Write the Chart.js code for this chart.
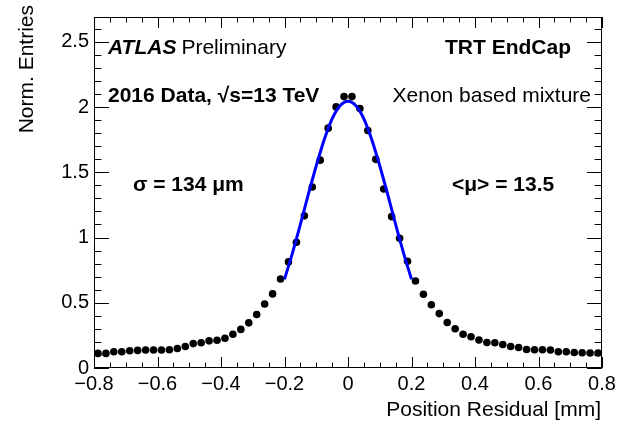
<!DOCTYPE html>
<html>
<head>
<meta charset="utf-8">
<script src="https://cdn.jsdelivr.net/npm/chart.js@4.4.0/dist/chart.umd.min.js"></script>
<style>
  body { margin: 0; background: #fff; }
</style>
</head>
<body>
<canvas id="residualChart" width="620" height="426"></canvas>
<script>
// bin centres of the residual histogram (bin width 0.025 mm)
const binCenters = [
  -0.7875, -0.7625, -0.7375, -0.7125, -0.6875, -0.6625, -0.6375, -0.6125,
  -0.5875, -0.5625, -0.5375, -0.5125, -0.4875, -0.4625, -0.4375, -0.4125,
  -0.3875, -0.3625, -0.3375, -0.3125, -0.2875, -0.2625, -0.2375, -0.2125,
  -0.1875, -0.1625, -0.1375, -0.1125, -0.0875, -0.0625, -0.0375, -0.0125,
  0.0125, 0.0375, 0.0625, 0.0875, 0.1125, 0.1375, 0.1625, 0.1875,
  0.2125, 0.2375, 0.2625, 0.2875, 0.3125, 0.3375, 0.3625, 0.3875,
  0.4125, 0.4375, 0.4625, 0.4875, 0.5125, 0.5375, 0.5625, 0.5875,
  0.6125, 0.6375, 0.6625, 0.6875, 0.7125, 0.7375, 0.7625, 0.7875
];
const entries = [
  0.112, 0.112, 0.125, 0.125, 0.132, 0.135, 0.138, 0.138,
  0.138, 0.140, 0.150, 0.165, 0.187, 0.193, 0.208, 0.213,
  0.228, 0.259, 0.296, 0.346, 0.410, 0.490, 0.568, 0.682,
  0.813, 0.964, 1.166, 1.387, 1.593, 1.838, 2.001, 2.080,
  2.080, 1.989, 1.820, 1.599, 1.372, 1.160, 0.994, 0.818,
  0.667, 0.565, 0.485, 0.417, 0.349, 0.301, 0.259, 0.240,
  0.215, 0.195, 0.193, 0.180, 0.165, 0.157, 0.142, 0.140,
  0.140, 0.138, 0.125, 0.125, 0.119, 0.117, 0.115, 0.115
];

// gaussian fit line
const fitX = [-0.2, -0.175, -0.15, -0.125, -0.1, -0.075, -0.05, -0.025, 0,
  0.025, 0.05, 0.075, 0.1, 0.125, 0.15, 0.175, 0.2];
const fitY = [0.68, 0.88, 1.10, 1.33, 1.55, 1.75, 1.91, 2.01, 2.045,
  2.01, 1.91, 1.75, 1.55, 1.33, 1.10, 0.88, 0.68];

const xTickValues = [-0.8, -0.6, -0.4, -0.2, 0, 0.2, 0.4, 0.6, 0.8];
const yTickValues = [0, 0.5, 1, 1.5, 2, 2.5];

const FONT = "'Liberation Sans', Arial, Helvetica, sans-serif";

function fmt(v) {
  return String(Math.round(v * 10) / 10).replace('-', '\u2212');
}

// ROOT style frame: box with inward ticks on all four sides
const frameTicks = {
  id: 'frameTicks',
  afterDatasetsDraw(chart) {
    const ctx = chart.ctx;
    const a = chart.chartArea;
    const xs = chart.scales.x;
    const ys = chart.scales.y;
    ctx.save();
    ctx.strokeStyle = '#000';
    ctx.lineWidth = 1;
    ctx.strokeRect(a.left + 0.5, a.top + 0.5, a.right - a.left - 1, a.bottom - a.top - 1);
    ctx.beginPath();
    for (let i = 0; i <= 32; i++) {
      const v = -0.8 + i * 0.05;
      const px = Math.round(xs.getPixelForValue(v)) + 0.5;
      const len = i % 4 === 0 ? 11 : 5.5;
      ctx.moveTo(px, a.bottom);
      ctx.lineTo(px, a.bottom - len);
      ctx.moveTo(px, a.top);
      ctx.lineTo(px, a.top + len);
    }
    for (let i = 0; i <= 26; i++) {
      const v = i * 0.1;
      const py = Math.round(ys.getPixelForValue(v)) + 0.5;
      const len = i % 5 === 0 ? 15 : 7.5;
      ctx.moveTo(a.left, py);
      ctx.lineTo(a.left + len, py);
      ctx.moveTo(a.right, py);
      ctx.lineTo(a.right - len, py);
    }
    ctx.stroke();
    ctx.restore();
  }
};

const labels = {
  id: 'labels',
  afterDraw(chart) {
    const ctx = chart.ctx;
    ctx.save();
    ctx.fillStyle = '#000';
    ctx.textBaseline = 'middle';

    ctx.textAlign = 'left';
    ctx.font = 'italic bold 21px ' + FONT;
    ctx.fillText('ATLAS', 108, 48);
    const w = ctx.measureText('ATLAS').width;
    ctx.font = '21px ' + FONT;
    ctx.fillText('Preliminary', 108 + w + 5, 48);

    ctx.font = 'bold 21px ' + FONT;
    ctx.fillText('2016 Data, \u221As=13 TeV', 108, 96);
    ctx.fillText('\u03C3 = 134 \u03BCm', 133, 185);
    ctx.fillText('<\u03BC> = 13.5', 452, 185);

    ctx.textAlign = 'right';
    ctx.fillText('TRT EndCap', 571, 48);
    ctx.font = '21px ' + FONT;
    ctx.fillText('Xenon based mixture', 591, 96);

    ctx.fillText('Position Residual [mm]', 601, 410);

    ctx.translate(27, 5);
    ctx.rotate(-Math.PI / 2);
    ctx.fillText('Norm. Entries', 0, 0);
    ctx.restore();
  }
};

new Chart(document.getElementById('residualChart'), {
  type: 'scatter',
  data: {
    datasets: [
      {
        label: 'fit',
        data: fitX.map((x, i) => ({ x: x, y: fitY[i] })),
        showLine: true,
        borderColor: '#0000ff',
        borderWidth: 3,
        pointRadius: 0,
        cubicInterpolationMode: 'monotone',
        order: 1
      },
      {
        label: 'data',
        data: binCenters.map((x, i) => ({ x: x, y: entries[i] })),
        backgroundColor: '#000',
        borderWidth: 0,
        pointRadius: 3.8,
        order: 2
      }
    ]
  },
  options: {
    responsive: false,
    animation: false,
    layout: { padding: { top: 12, right: 18, left: 0, bottom: 0 } },
    plugins: { legend: { display: false }, tooltip: { enabled: false } },
    scales: {
      x: {
        type: 'linear',
        min: -0.8,
        max: 0.8,
        grid: { display: false, drawTicks: false },
        border: { display: false },
        afterBuildTicks: s => { s.ticks = xTickValues.map(v => ({ value: v })); },
        afterFit: s => { s.height = 58; },
        ticks: {
          color: '#000',
          font: { family: FONT, size: 20 },
          padding: 4,
          maxRotation: 0,
          callback: v => fmt(v)
        }
      },
      y: {
        type: 'linear',
        min: 0,
        max: 2.69,
        grid: { display: false, drawTicks: false },
        border: { display: false },
        afterBuildTicks: s => { s.ticks = yTickValues.map(v => ({ value: v })); },
        afterFit: s => { s.width = 94; },
        ticks: {
          color: '#000',
          font: { family: FONT, size: 20 },
          padding: 5,
          callback: v => fmt(v)
        }
      }
    }
  },
  plugins: [frameTicks, labels]
});
</script>
</body>
</html>
